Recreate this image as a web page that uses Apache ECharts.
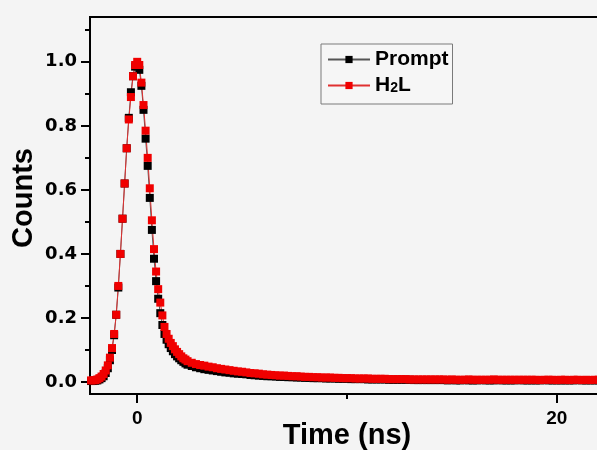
<!DOCTYPE html>
<html>
<head>
<meta charset="utf-8">
<script src="https://cdn.jsdelivr.net/npm/echarts@6/dist/echarts.min.js"></script>
<style>
  html, body { margin: 0; padding: 0; background: #f4f4f4; }
  #chart { width: 597px; height: 450px; }
</style>
</head>
<body>
<div id="chart"></div>
<script>
// Time channels (ns): fine sampling over the pulse, coarser along the decay tail
const timeNs = [
  -2.2, -2.1, -2.0, -1.9, -1.8, -1.7, -1.6, -1.5, -1.4, -1.3,
  -1.2, -1.1, -1.0, -0.9, -0.8, -0.7, -0.6, -0.5, -0.4, -0.3,
  -0.2, -0.1, 0.0, 0.1, 0.2, 0.3, 0.4, 0.5, 0.6, 0.7,
  0.8, 0.9, 1.0, 1.1, 1.2, 1.3, 1.4, 1.5, 1.6, 1.7,
  1.8, 1.9, 2.0, 2.1, 2.2, 2.3, 2.4,
  2.6, 2.8, 3.0, 3.2, 3.4, 3.6, 3.8, 4.0, 4.2, 4.4,
  4.6, 4.8, 5.0, 5.2, 5.4, 5.6, 5.8, 6.0, 6.2, 6.4,
  6.6, 6.8, 7.0, 7.2, 7.4, 7.6, 7.8, 8.0, 8.2, 8.4,
  8.6, 8.8, 9.0, 9.2, 9.4, 9.6, 9.8, 10.0, 10.2, 10.4,
  10.6, 10.8, 11.0, 11.2, 11.4, 11.6, 11.8, 12.0, 12.2, 12.4,
  12.6, 12.8, 13.0, 13.2, 13.4, 13.6, 13.8, 14.0, 14.2, 14.4,
  14.6, 14.8, 15.0, 15.2, 15.4, 15.6, 15.8, 16.0, 16.2, 16.4,
  16.6, 16.8, 17.0, 17.2, 17.4, 17.6, 17.8, 18.0, 18.2, 18.4,
  18.6, 18.8, 19.0, 19.2, 19.4, 19.6, 19.8, 20.0, 20.2, 20.4,
  20.6, 20.8, 21.0, 21.2, 21.4, 21.6, 21.8, 22.0, 22.2, 22.4
];

// Instrument response (normalised counts)
const promptCounts = [
  0.003, 0.003, 0.004, 0.005, 0.008, 0.012, 0.018, 0.028, 0.043, 0.068,
  0.100, 0.146, 0.210, 0.295, 0.400, 0.510, 0.620, 0.730, 0.825, 0.905,
  0.955, 0.985, 0.990, 0.975, 0.925, 0.850, 0.760, 0.675, 0.575, 0.475,
  0.385, 0.315, 0.260, 0.215, 0.178, 0.150, 0.132, 0.118, 0.106, 0.096,
  0.087, 0.080, 0.074, 0.068, 0.063, 0.058, 0.054,
  0.050, 0.046, 0.043, 0.040, 0.038, 0.036, 0.034, 0.032, 0.030, 0.029,
  0.027, 0.026, 0.025, 0.024, 0.022, 0.021, 0.020, 0.019, 0.018, 0.018,
  0.017, 0.016, 0.016, 0.015, 0.015, 0.014, 0.014, 0.013, 0.013, 0.012,
  0.012, 0.012, 0.011, 0.011, 0.011, 0.010, 0.010, 0.010, 0.009, 0.009,
  0.009, 0.009, 0.008, 0.008, 0.008, 0.008, 0.008, 0.007, 0.007, 0.007,
  0.007, 0.007, 0.007, 0.006, 0.006, 0.006, 0.006, 0.006, 0.006, 0.006,
  0.006, 0.005, 0.006, 0.005, 0.005, 0.006, 0.005, 0.005, 0.005, 0.006,
  0.005, 0.005, 0.005, 0.006, 0.005, 0.005, 0.005, 0.005, 0.006, 0.005,
  0.005, 0.005, 0.005, 0.005, 0.006, 0.005, 0.005, 0.005, 0.005, 0.005,
  0.005, 0.005, 0.006, 0.005, 0.005, 0.005, 0.005, 0.005, 0.005, 0.005
];

// H2L emission decay (normalised counts)
const h2lCounts = [
  0.005, 0.005, 0.006, 0.008, 0.012, 0.017, 0.025, 0.036, 0.052, 0.076,
  0.106, 0.150, 0.210, 0.300, 0.400, 0.510, 0.620, 0.730, 0.820, 0.890,
  0.955, 0.990, 1.000, 0.990, 0.935, 0.865, 0.785, 0.700, 0.605, 0.505,
  0.415, 0.345, 0.290, 0.248, 0.208, 0.172, 0.150, 0.135, 0.122, 0.112,
  0.102, 0.094, 0.087, 0.080, 0.074, 0.070, 0.065,
  0.060, 0.056, 0.053, 0.051, 0.048, 0.046, 0.043, 0.041, 0.039, 0.037,
  0.035, 0.033, 0.032, 0.030, 0.028, 0.027, 0.026, 0.024, 0.023, 0.022,
  0.021, 0.020, 0.020, 0.019, 0.018, 0.018, 0.017, 0.016, 0.016, 0.015,
  0.015, 0.014, 0.014, 0.014, 0.013, 0.013, 0.012, 0.012, 0.012, 0.011,
  0.011, 0.011, 0.011, 0.010, 0.010, 0.010, 0.010, 0.009, 0.009, 0.009,
  0.009, 0.009, 0.008, 0.008, 0.008, 0.008, 0.008, 0.008, 0.008, 0.008,
  0.008, 0.007, 0.008, 0.007, 0.007, 0.007, 0.008, 0.007, 0.007, 0.007,
  0.007, 0.007, 0.008, 0.007, 0.007, 0.007, 0.007, 0.007, 0.007, 0.007,
  0.007, 0.007, 0.007, 0.006, 0.007, 0.007, 0.007, 0.006, 0.007, 0.007,
  0.006, 0.007, 0.007, 0.006, 0.007, 0.006, 0.007, 0.007, 0.006, 0.007
];

const xMajorTicks = [0, 20];
const xMinorTicks = [10];
const yMajorTicks = [0, 0.2, 0.4, 0.6, 0.8, 1.0];
const yMinorTicks = [0.1, 0.3, 0.5, 0.7, 0.9, 1.1];

const FONT = '"Liberation Sans", Arial, sans-serif';
const WIDE_FONT = '"DejaVu Sans", sans-serif';

const promptData = timeNs.map((t, i) => [t, promptCounts[i]]);
const h2lData = timeNs.map((t, i) => [t, h2lCounts[i]]);

const chart = echarts.init(document.getElementById('chart'), null, { renderer: 'canvas' });

const tickLine = { color: '#000', width: 2 };

chart.setOption({
  animation: false,
  backgroundColor: '#f4f4f4',
  grid: {
    left: 90, top: 17, width: 514, height: 377,
    outerBoundsMode: 'none',
    containLabel: false,
    show: true, borderColor: '#000', borderWidth: 2,
    backgroundColor: 'transparent'
  },
  legend: {
    orient: 'vertical',
    left: 321, top: 44,
    padding: [5, 4, 8, 6],
    itemGap: 5,
    itemWidth: 42,
    itemHeight: 9,
    borderColor: '#7a7a7a',
    borderWidth: 1,
    backgroundColor: '#f6f6f6',
    data: ['Prompt', 'H2L'],
    formatter: function (name) {
      return name === 'H2L' ? '{b|H}{s|2}{b|L}' : '{b|' + name + '}';
    },
    textStyle: {
      color: '#000',
      fontFamily: FONT,
      fontWeight: 'bold',
      fontSize: 21,
      rich: {
        b: { fontFamily: FONT, fontWeight: 'bold', fontSize: 21, lineHeight: 22, color: '#000' },
        s: { fontFamily: FONT, fontWeight: 'bold', fontSize: 14, lineHeight: 14, padding: [6, 0, 0, 0], color: '#000' }
      }
    }
  },
  xAxis: [
    {
      type: 'value',
      min: -2.25, max: 22.25,
      name: 'Time (ns)',
      nameLocation: 'middle',
      nameGap: 27,
      nameMoveOverlap: false,
      nameTextStyle: { fontFamily: FONT, fontWeight: 'bold', fontSize: 29, color: '#000' },
      axisLine: { show: true, onZero: false, lineStyle: tickLine },
      axisTick: { show: true, length: 9, lineStyle: tickLine, customValues: xMajorTicks },
      axisLabel: {
        customValues: xMajorTicks,
        margin: 15,
        fontFamily: FONT, fontWeight: 'bold', fontSize: 19, color: '#000',
        formatter: v => String(v)
      },
      splitLine: { show: false }
    },
    {
      type: 'value',
      min: -2.25, max: 22.25,
      position: 'bottom',
      axisLine: { show: false, onZero: false },
      axisTick: { show: true, length: 5, lineStyle: tickLine, customValues: xMinorTicks },
      axisLabel: { show: false },
      splitLine: { show: false }
    }
  ],
  yAxis: [
    {
      type: 'value',
      min: -0.0375, max: 1.14,
      name: 'Counts',
      nameLocation: 'middle',
      nameGap: 52,
      nameMoveOverlap: false,
      nameTextStyle: { fontFamily: FONT, fontWeight: 'bold', fontSize: 29, color: '#000', padding: [0, 0, 0, 15] },
      axisLine: { show: true, onZero: false, lineStyle: tickLine },
      axisTick: { show: true, length: 9, lineStyle: tickLine, customValues: yMajorTicks },
      axisLabel: {
        customValues: yMajorTicks,
        margin: 13,
        fontFamily: WIDE_FONT, fontWeight: 'bold', fontSize: 18, color: '#000',
        formatter: v => v.toFixed(1)
      },
      splitLine: { show: false }
    },
    {
      type: 'value',
      min: -0.0375, max: 1.14,
      position: 'left',
      axisLine: { show: false, onZero: false },
      axisTick: { show: true, length: 5, lineStyle: tickLine, customValues: yMinorTicks },
      axisLabel: { show: false },
      splitLine: { show: false }
    }
  ],
  series: [
    {
      name: 'Prompt',
      type: 'line',
      data: promptData,
      symbol: 'rect',
      symbolSize: 8,
      showAllSymbol: true,
      itemStyle: { color: '#000' },
      lineStyle: { color: '#555', width: 1 }
    },
    {
      name: 'H2L',
      type: 'line',
      data: h2lData,
      symbol: 'rect',
      symbolSize: 8,
      showAllSymbol: true,
      itemStyle: { color: '#f00000' },
      lineStyle: { color: '#e03030', width: 1 }
    }
  ]
});
</script>
</body>
</html>
